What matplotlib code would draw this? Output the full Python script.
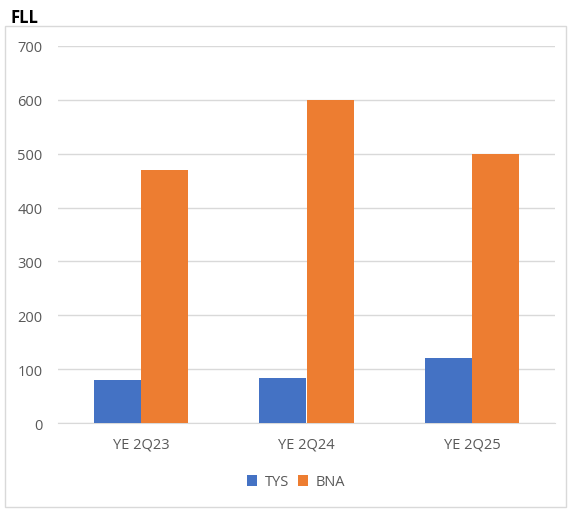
import matplotlib.pyplot as plt
import numpy as np
from matplotlib.patches import Rectangle

categories = ["YE 2Q23", "YE 2Q24", "YE 2Q25"]
tys = [79, 83, 120]
bna = [470, 600, 500]
yticks = [0, 100, 200, 300, 400, 500, 600, 700]

W, H = 569, 510
fig = plt.figure(figsize=(W / 100, H / 100), dpi=100)
plt.rcParams['font.family'] = ['Open Sans', 'DejaVu Sans']

# chart border
fig.patches.append(Rectangle((5 / W, 1 - 508 / H), 561 / W, 481 / H, transform=fig.transFigure,
                             fill=False, edgecolor='#D9D9D9', linewidth=1))
fig.text(10 / W, 1 - 18 / H, "FLL", fontsize=12, fontweight='bold', va='center', ha='left')

ax = fig.add_axes([58 / W, 1 - 424 / H, (555 - 58) / W, (424 - 47) / H])
x = np.arange(len(categories))
w = 0.284
ax.bar(x - w / 2, tys, w, color='#4472C4', label='TYS', zorder=3)
ax.bar(x + w / 2, bna, w, color='#ED7D31', label='BNA', zorder=3)

ax.set_xlim(-0.5, len(categories) - 0.5)
ax.set_ylim(0, 700)
ax.set_yticks(yticks)
ax.set_xticks(x)
ax.set_xticklabels(categories)
ax.yaxis.grid(True, color='#D9D9D9', linewidth=1, zorder=0)
for s in ['top', 'right', 'left']:
    ax.spines[s].set_visible(False)
ax.spines['bottom'].set_color('#D9D9D9')
ax.tick_params(axis='both', length=0, labelsize=10.5, labelcolor='#595959')
ax.tick_params(axis='y', pad=11)
ax.tick_params(axis='x', pad=10)

leg = fig.legend(*ax.get_legend_handles_labels(), loc='center', bbox_to_anchor=(296 / W, 1 - 483 / H),
                 ncol=2, frameon=False, handlelength=0.7, handleheight=0.7, handletextpad=0.5,
                 columnspacing=0.6, labelcolor='#595959', fontsize=10.5)

fig.savefig("out.png", dpi=100)
